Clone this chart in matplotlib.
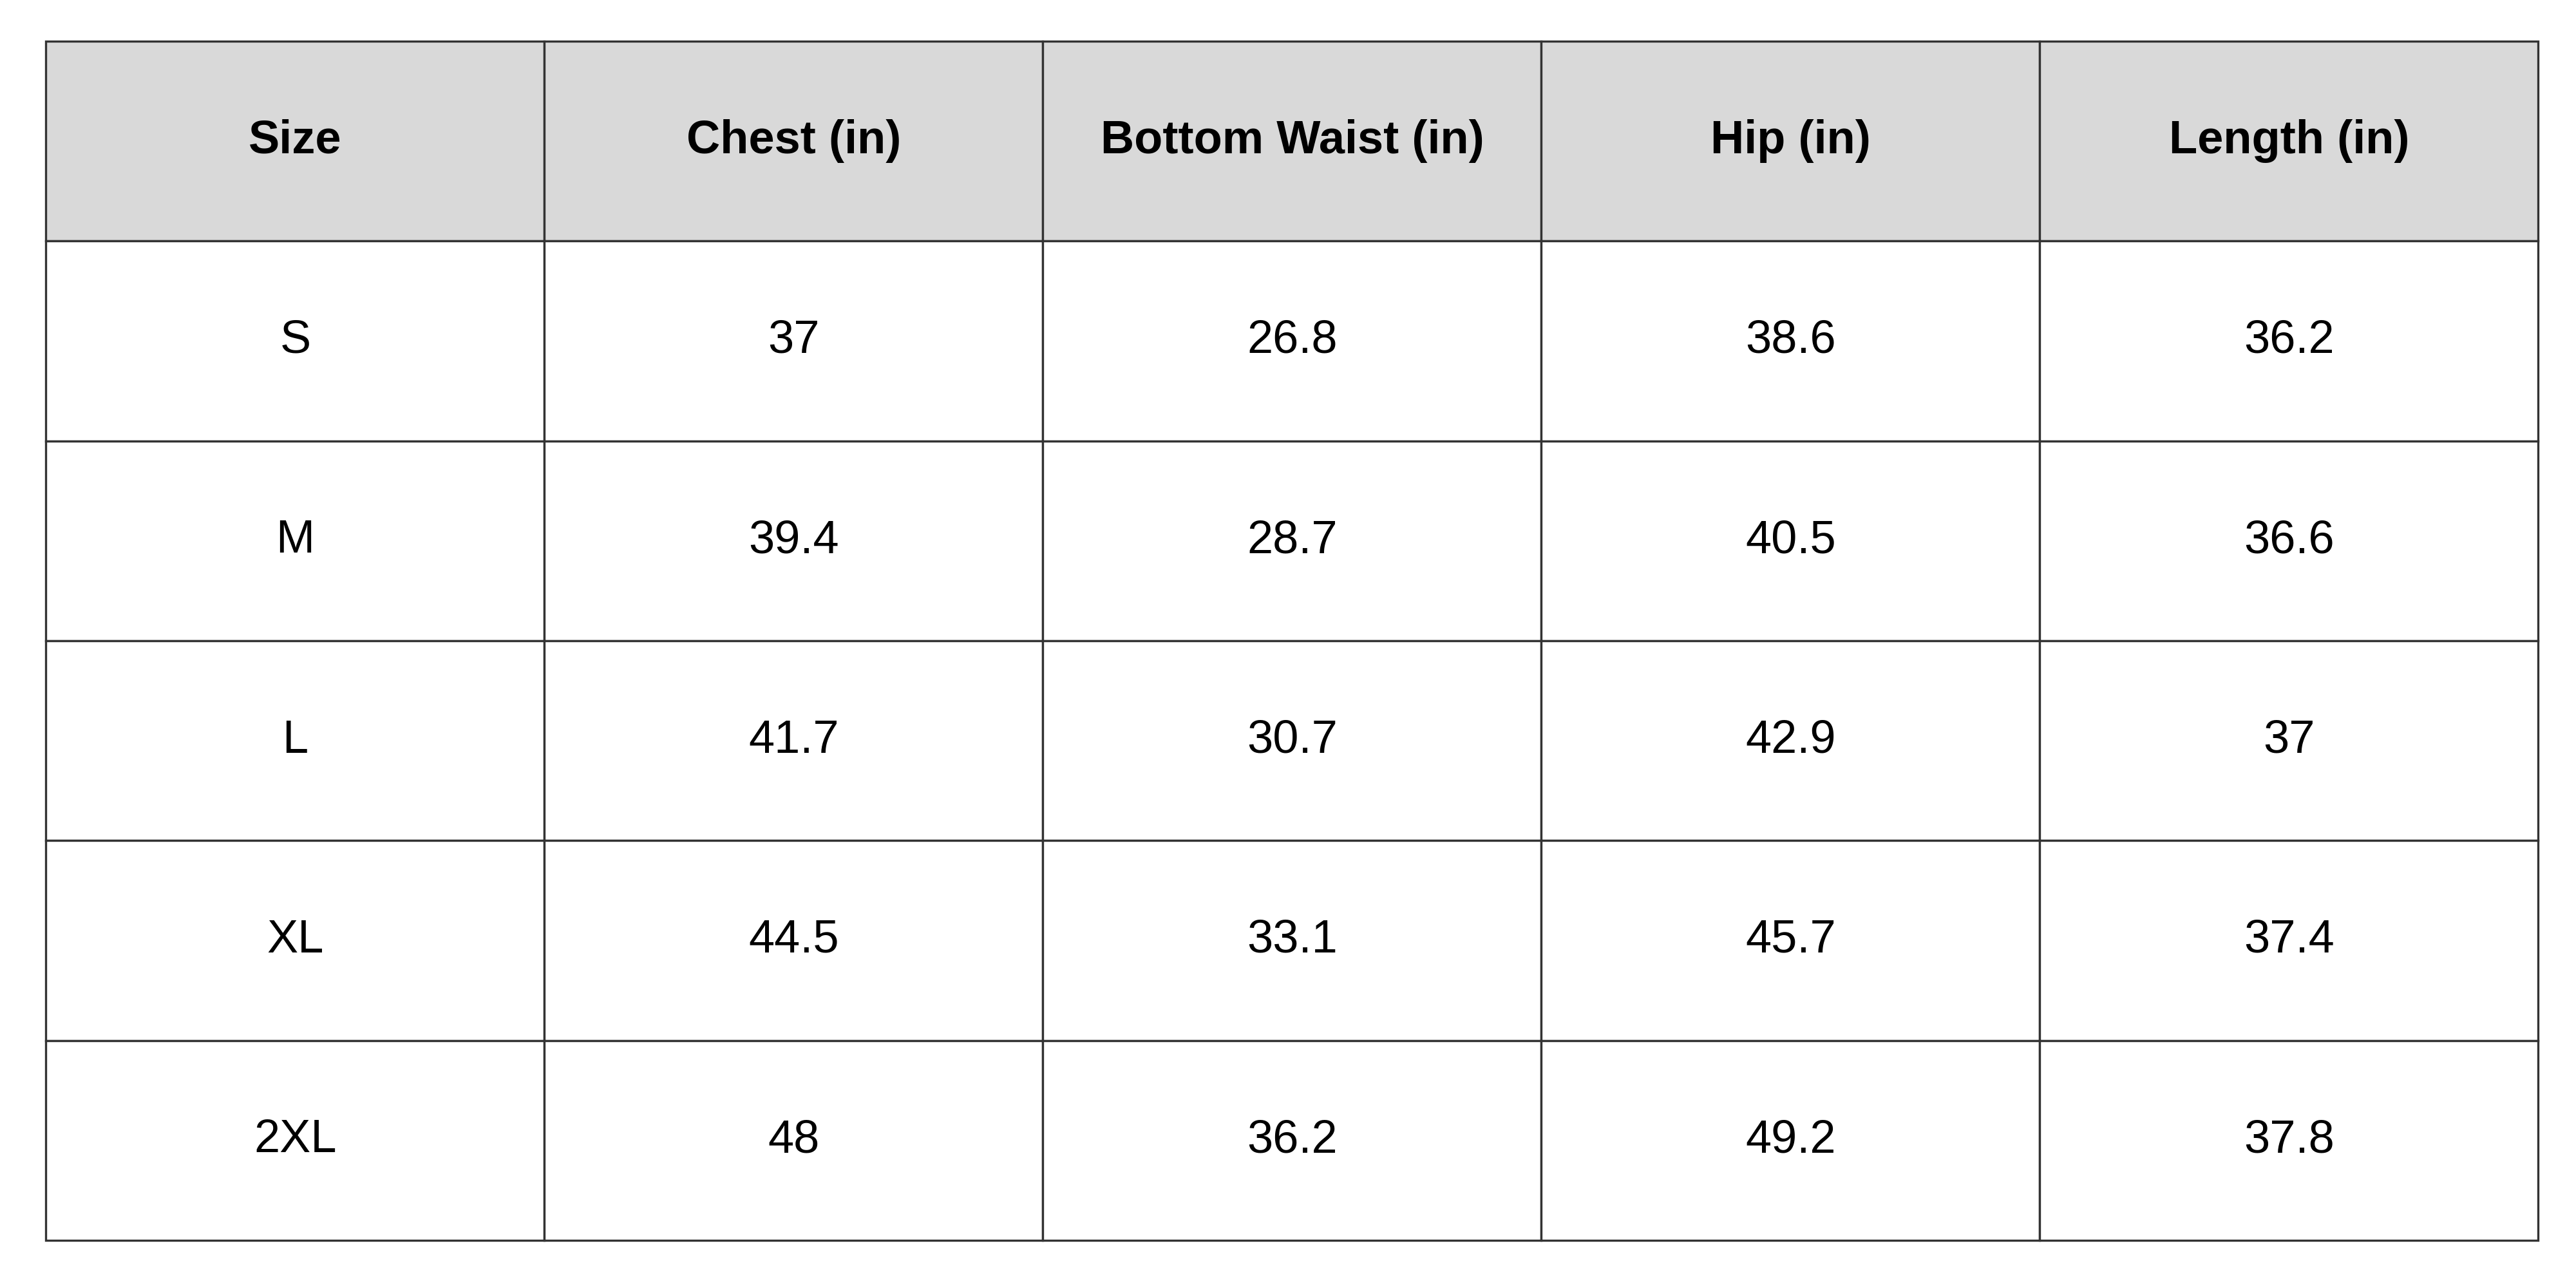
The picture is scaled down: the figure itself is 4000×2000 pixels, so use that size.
import matplotlib
matplotlib.use("Agg")
import matplotlib.pyplot as plt

columns = ["Size", "Chest (in)", "Bottom Waist (in)", "Hip (in)", "Length (in)"]
sizes = ["S", "M", "L", "XL", "2XL"]
chest = ["37", "39.4", "41.7", "44.5", "48"]
bottom_waist = ["26.8", "28.7", "30.7", "33.1", "36.2"]
hip = ["38.6", "40.5", "42.9", "45.7", "49.2"]
length = ["36.2", "36.6", "37", "37.4", "37.8"]

plt.rcParams['font.family'] = ['Liberation Sans', 'DejaVu Sans']

fig = plt.figure(figsize=(20, 10), dpi=200)
ax = fig.add_axes([0, 0, 1, 1])
ax.axis("off")

rows = [list(r) for r in zip(sizes, chest, bottom_waist, hip, length)]
left, right = 28 / 1568, 1545 / 1568
top, bottom = 1 - 25 / 784, 1 - 755 / 784
tbl = ax.table(cellText=rows, colLabels=columns, cellLoc="center",
               bbox=[left, bottom, right - left, top - bottom])
tbl.auto_set_font_size(False)
for (r, c), cell in tbl.get_celld().items():
    cell.set_edgecolor("#333333")
    cell.set_linewidth(1.2)
    cell.get_text().set_fontsize(26)
    if r == 0:
        cell.set_facecolor("#d9d9d9")
        cell.get_text().set_fontweight("bold")
    else:
        cell.set_facecolor("white")

fig.savefig("out.png", dpi=200, facecolor="white")
